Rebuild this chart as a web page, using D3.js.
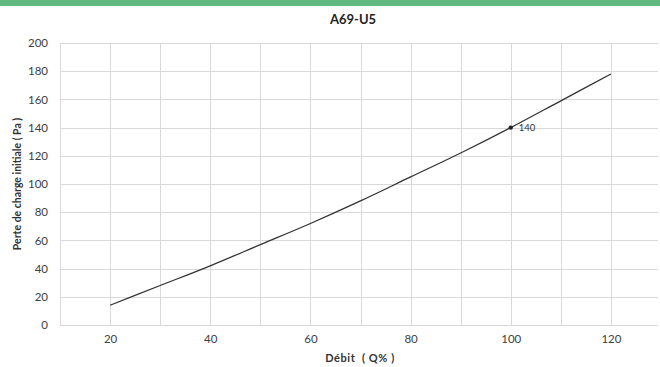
<!DOCTYPE html>
<html><head><meta charset="utf-8">
<script src="https://cdn.jsdelivr.net/npm/d3@7"></script>
<style>body{margin:0;background:#fff}svg{display:block;font-family:Lato,"Open Sans",sans-serif}</style>
</head><body><svg id="c" width="660" height="367"></svg>
<script>
const title = "A69-U5";
const xTitle = "Débit  ( Q% )";
const yTitle = "Perte de charge initiale ( Pa )";
const debit = [20, 30, 40, 50, 60, 70, 80, 90, 100, 110, 120];
const perte = [14, 28, 42, 57, 72, 88, 105, 122, 140, 159, 178];
const marker = {x: 100, y: 140, label: "140"};
const xTicks = [20, 40, 60, 80, 100, 120];
const yTicks = [0, 20, 40, 60, 80, 100, 120, 140, 160, 180, 200];
const xGrid = d3.range(20, 121, 10);

const svg = d3.select("#c");
const m = {l: 60, t: 43, b: 42};
const W = 660, H = 367;
const plotRight = 658;
const x = d3.scaleLinear().domain([10, 130]).range([m.l, 661]);
const y = d3.scaleLinear().domain([0, 200]).range([H - m.b, m.t]);

svg.append("rect").attr("x", 0).attr("y", 0).attr("width", W).attr("height", 6).attr("fill", "#62b97f");

const grid = svg.append("g").attr("stroke", "#d9d9d9").attr("stroke-width", 1);
grid.selectAll(".h").data(yTicks).join("line")
  .attr("x1", m.l).attr("x2", plotRight)
  .attr("y1", d => Math.round(y(d)) + 0.5).attr("y2", d => Math.round(y(d)) + 0.5);
grid.selectAll(".v").data(xGrid).join("line")
  .attr("y1", m.t).attr("y2", H - m.b)
  .attr("x1", d => Math.round(x(d)) + 0.5).attr("x2", d => Math.round(x(d)) + 0.5);
grid.append("line").attr("x1", m.l + 0.5).attr("x2", m.l + 0.5).attr("y1", m.t).attr("y2", H - m.b);

const yAxis = svg.append("g").attr("transform", `translate(${m.l},0)`)
  .call(d3.axisLeft(y).tickValues(yTicks).tickSize(0).tickPadding(12));
yAxis.select(".domain").remove();
yAxis.selectAll("text").attr("font-size", 11.5).attr("fill", "#404040").attr("font-family", "Lato,'Open Sans',sans-serif");

const xAxis = svg.append("g").attr("transform", `translate(0,${H - m.b})`)
  .call(d3.axisBottom(x).tickValues(xTicks).tickSize(0).tickPadding(10));
xAxis.select(".domain").remove();
xAxis.selectAll("text").attr("font-size", 11.5).attr("fill", "#404040").attr("font-family", "Lato,'Open Sans',sans-serif");

const line = d3.line().x((d, i) => x(debit[i])).y(d => y(d)).curve(d3.curveMonotoneX);
svg.append("path").datum(perte).attr("d", line).attr("fill", "none").attr("stroke", "#333").attr("stroke-width", 1.3);

svg.append("circle").attr("cx", x(marker.x)).attr("cy", y(marker.y)).attr("r", 2.2).attr("fill", "#222");
svg.append("text").attr("x", x(marker.x) + 8).attr("y", y(marker.y) + 3.5)
  .attr("font-size", 9.5).attr("fill", "#333").text(marker.label);

svg.append("text").attr("x", 353).attr("y", 24).attr("text-anchor", "middle")
  .attr("font-size", 13).attr("font-weight", "bold").attr("fill", "#222").text(title);
svg.append("text").attr("x", 360).attr("y", 362).attr("text-anchor", "middle").attr("xml:space", "preserve")
  .attr("font-size", 11).attr("font-weight", "bold").attr("fill", "#333").attr("letter-spacing", 0.6).text(xTitle);
svg.append("text").attr("transform", `translate(21,${(m.t + H - m.b) / 2}) rotate(-90)`).attr("text-anchor", "middle")
  .attr("font-size", 10.5).attr("font-weight", "bold").attr("fill", "#333").text(yTitle);
</script></body></html>
